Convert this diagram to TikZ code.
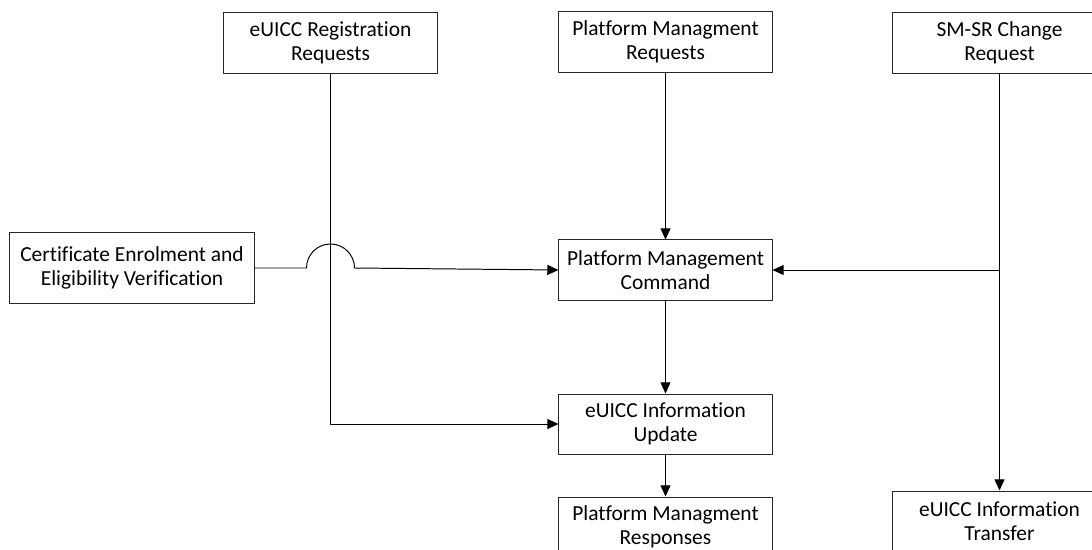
\documentclass[tikz,border=0pt]{standalone}
\usepackage{fontspec}
\setmainfont{Carlito}[Ligatures=NoCommon, RawFeature=-liga]
\usetikzlibrary{arrows.meta}
\begin{document}
\begin{tikzpicture}[x=0.025cm, y=-0.025cm, line join=round, line width=0.7pt, >={Triangle[length=0.28cm,width=0.25cm]},
	box/.style={draw=black!85, minimum width=5.325cm, minimum height=1.5cm, align=center, inner sep=0pt, font=\fontsize{15.25}{17.1}\selectfont}]
				\useasboundingbox (0,0) rectangle (1092,550);
				% top row
				\node[box] (reg) at (330.5,43) {eUICC Registration\\Requests};
				\node[box] (platreq) at (665.5,42) {Platform Managment\\Requests};
				\node[box] (smsr) at (999.5,43) {SM-SR Change\\Request};
				% middle
				\node[box, minimum width=6.1cm, minimum height=1.75cm] (cert) at (132,268) {Certificate Enrolment and\\Eligibility Verification};
				\node[box] (cmd) at (665.5,270) {Platform Management\\Command};
				\node[box] (update) at (665.5,424) {eUICC Information\\Update};
				% bottom row
				\node[box] (resp) at (665.5,527) {Platform Managment\\Responses};
				\node[box] (transfer) at (999.5,521) {eUICC Information\\Transfer};
				
				\path
				(reg.south |- cert.east) coordinate (hop)
				(reg.south |- update.west) coordinate (regcorner)
				(smsr.south |- cmd.east) coordinate (smsrjoin)
				;
				
				\draw[->] (platreq) -- (cmd);
				\draw[->] (cmd) -- (update);
				\draw[->] (update) -- (resp);
				\draw[->] (reg.south) -- (regcorner) -- (update.west);
				\draw[->] (cert.east) -- ([xshift=-0.6cm]hop) arc[start angle=180, end angle=0, radius=0.6cm] -- (cmd.west);
				\draw[->] (smsr.south) -- (transfer.north);
				\draw[->] (smsrjoin) -- (cmd.east);
				%\fill (hop) circle (1pt);
		\end{tikzpicture}
\end{document}
